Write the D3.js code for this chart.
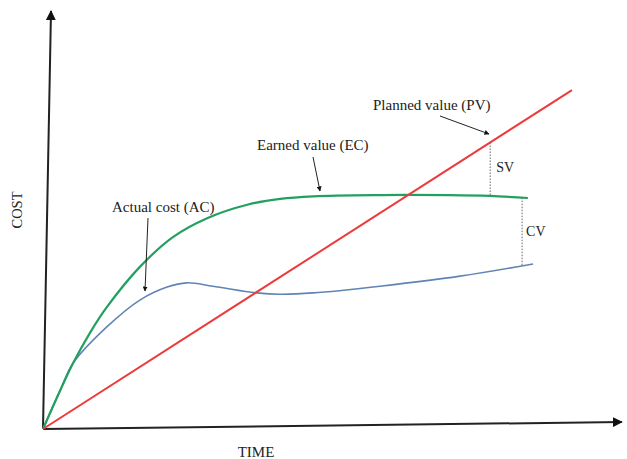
<!DOCTYPE html>
<html>
<head>
<meta charset="utf-8">
<script src="https://cdn.jsdelivr.net/npm/d3@7"></script>
<style>
  body { margin: 0; background: #fff; }
  text { font-family: "Liberation Serif", "DejaVu Serif", serif; fill: #222; }
</style>
</head>
<body>
<div id="chart"></div>
<script>
// Earned value curves (time 0-100, cost 0-100)
const pvTime = [0, 91.2];
const pvCost = [0, 80.7];

const evTime = [0, 2.9, 5.2, 8.1, 11.0, 16.7, 22.4, 28.3, 35.2, 40.9, 46.6, 58.1, 70.0, 77.1, 83.6];
const evCost = [0, 9.0, 15.7, 22.9, 29.0, 38.6, 45.7, 50.2, 53.4, 54.8, 55.4, 55.7, 55.7, 55.5, 55.0];

const acTime = [0, 2.9, 5.2, 11.0, 16.7, 21.4, 24.8, 29.3, 36.9, 40.9, 46.6, 58.1, 71.9, 84.5];
const acCost = [0, 9.0, 15.7, 24.3, 30.7, 33.8, 34.8, 34.0, 32.4, 32.1, 32.4, 34.0, 36.4, 39.3];

// where the variance brackets sit
const svTime = 77.1;
const cvTime = 82.6;

const labels = ["Planned value (PV)", "Earned value (EC)", "Actual cost (AC)", "SV", "CV"];
const axisLabels = ["COST", "TIME"];

const width = 627;
const height = 459;

const svg = d3.select("#chart")
    .append("svg")
    .attr("width", width)
    .attr("height", height);

const x = d3.scaleLinear().domain([0, 100]).range([43, 623]);
const y = d3.scaleLinear().domain([0, 100]).range([429, 9]);

// arrowhead marker
const defs = svg.append("defs");
defs.append("marker")
    .attr("id", "head")
    .attr("viewBox", "0 0 10 10")
    .attr("refX", 9)
    .attr("refY", 5)
    .attr("markerWidth", 5)
    .attr("markerHeight", 5)
    .attr("orient", "auto")
    .append("path")
    .attr("d", "M0,0 L10,5 L0,10 z")
    .attr("fill", "#111");

// axes (slightly tilted like the drawing)
svg.append("line")
    .attr("x1", x(0)).attr("y1", y(0))
    .attr("x2", x(0) + 8).attr("y2", y(99.5))
    .attr("stroke", "#222").attr("stroke-width", 2)
    .attr("marker-end", "url(#head)");

svg.append("line")
    .attr("x1", x(0)).attr("y1", y(0))
    .attr("x2", x(99.8)).attr("y2", y(0) - 7)
    .attr("stroke", "#222").attr("stroke-width", 2)
    .attr("marker-end", "url(#head)");

const line = d3.line()
    .x(d => x(d[0]))
    .y(d => y(d[1]))
    .curve(d3.curveCatmullRom.alpha(0.5));

const pv = pvTime.map((t, i) => [t, pvCost[i]]);
const ev = evTime.map((t, i) => [t, evCost[i]]);
const ac = acTime.map((t, i) => [t, acCost[i]]);

svg.append("path").datum(ac)
    .attr("d", line)
    .attr("fill", "none")
    .attr("stroke", "#5f85b5")
    .attr("stroke-width", 1.6);

svg.append("path").datum(ev)
    .attr("d", line)
    .attr("fill", "none")
    .attr("stroke", "#22a060")
    .attr("stroke-width", 2.2);

svg.append("path").datum(pv)
    .attr("d", d3.line().x(d => x(d[0])).y(d => y(d[1])))
    .attr("fill", "none")
    .attr("stroke", "#ec3b3b")
    .attr("stroke-width", 2);

// value of a series at time t (linear between read points)
function valueAt(ts, vs, t) {
    const i = Math.max(1, d3.bisectLeft(ts, t));
    const f = (t - ts[i - 1]) / (ts[i] - ts[i - 1]);
    return vs[i - 1] + f * (vs[i] - vs[i - 1]);
}

// SV and CV brackets
svg.append("line")
    .attr("x1", x(svTime)).attr("x2", x(svTime))
    .attr("y1", y(valueAt(pvTime, pvCost, svTime)))
    .attr("y2", y(valueAt(evTime, evCost, svTime)))
    .attr("stroke", "#666").attr("stroke-width", 1)
    .attr("stroke-dasharray", "1.5,1.5");

svg.append("line")
    .attr("x1", x(cvTime)).attr("x2", x(cvTime))
    .attr("y1", y(valueAt(evTime, evCost, cvTime)))
    .attr("y2", y(valueAt(acTime, acCost, cvTime)))
    .attr("stroke", "#666").attr("stroke-width", 1)
    .attr("stroke-dasharray", "1.5,1.5");

svg.append("text").attr("x", x(svTime) + 6).attr("y", 172)
    .style("font-size", "14px").text(labels[3]);
svg.append("text").attr("x", x(cvTime) + 4).attr("y", 236)
    .style("font-size", "14px").text(labels[4]);

// callouts
svg.append("text").attr("x", 373).attr("y", 110)
    .style("font-size", "15px").text(labels[0]);
svg.append("line")
    .attr("x1", 440).attr("y1", 116).attr("x2", 489).attr("y2", 134)
    .attr("stroke", "#222").attr("stroke-width", 1)
    .attr("marker-end", "url(#head)");

svg.append("text").attr("x", 257).attr("y", 150)
    .style("font-size", "15px").text(labels[1]);
svg.append("line")
    .attr("x1", 313).attr("y1", 157).attr("x2", 320).attr("y2", 191)
    .attr("stroke", "#222").attr("stroke-width", 1)
    .attr("marker-end", "url(#head)");

svg.append("text").attr("x", 112).attr("y", 212)
    .style("font-size", "15px").text(labels[2]);
svg.append("line")
    .attr("x1", 148).attr("y1", 218).attr("x2", 145).attr("y2", 291)
    .attr("stroke", "#222").attr("stroke-width", 1)
    .attr("marker-end", "url(#head)");

// axis titles
svg.append("text")
    .attr("transform", "translate(22,210) rotate(-90)")
    .attr("text-anchor", "middle")
    .style("font-size", "14.5px")
    .text(axisLabels[0]);

svg.append("text")
    .attr("x", 256).attr("y", 457)
    .attr("text-anchor", "middle")
    .style("font-size", "15px")
    .text(axisLabels[1]);
</script>
</body>
</html>
